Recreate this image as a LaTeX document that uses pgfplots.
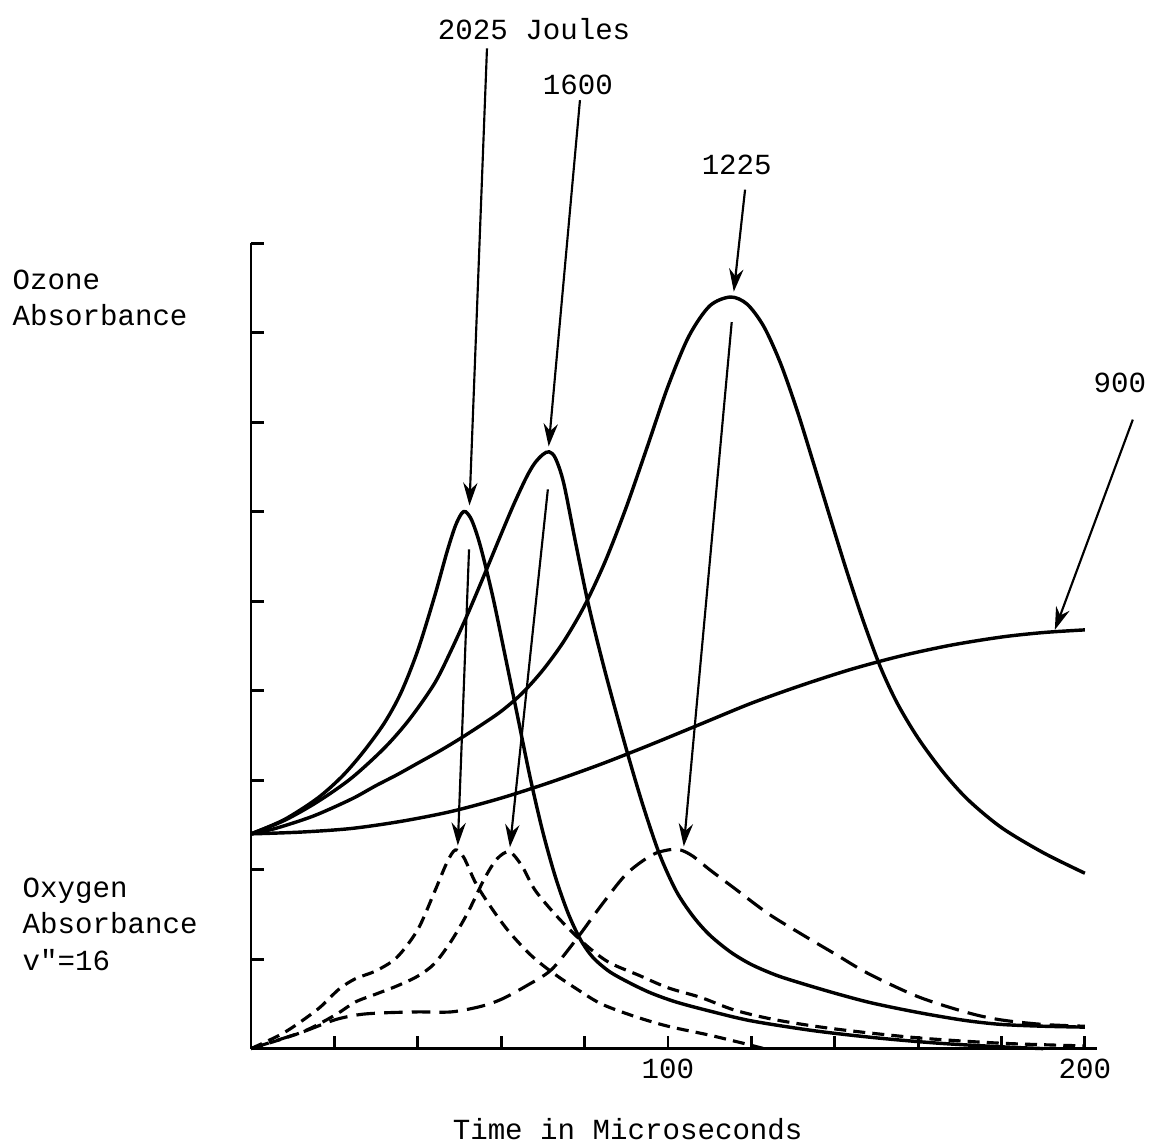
\documentclass[border=0pt]{standalone}
\usepackage{fontspec}
\setmainfont{Liberation Mono}[Ligatures=TeXOff]
\usepackage{pgfplots}
\pgfplotsset{compat=1.18}
\usetikzlibrary{arrows.meta}
\newcommand{\tw}{\fontsize{10.2}{12.8}\selectfont}
\tikzset{
  ann/.style={line width=0.75pt, -{Stealth[length=8pt,width=5pt]}},
  ozone/.style={line width=1.2pt, smooth},
  oxy/.style={line width=1.1pt, smooth, dash pattern=on 4.2pt off 2.5pt},
}
\begin{document}
\begin{tikzpicture}[font=\tw]
\begin{axis}[
  scale only axis,
  width=296.3pt, height=281.9pt,
  xmin=0, xmax=203, ymin=0, ymax=9,
  axis lines*=left,
  axis line style={line width=1pt},
  xtick={20,40,...,200},
  xticklabels={,,,,100,,,,,200},
  ytick={1,...,9},
  yticklabels={},
  tick align=inside,
  major tick length=4.5pt,
  tick style={line width=1pt, black},
  /pgf/number format/assume math mode=true,
  ticklabel style={font=\tw},
  xlabel={Time in Microseconds},
  xlabel style={at={(axis description cs:0.445,-0.1006)}, anchor=center, font=\tw},
  clip=false,
]
% ozone absorbance, solid
\addplot[ozone] coordinates {% 2025 J
 (0,2.40) (8,2.56) (16,2.80) (22,3.05) (27,3.32) (32,3.64) (36,3.98) (40,4.45)
 (44,5.05) (47,5.55) (49,5.84) (50.5,5.98) (51.5,6.00) (53,5.90) (55,5.62)
 (58,5.05) (61,4.38) (64,3.70) (67,3.02) (70,2.42) (73,1.92) (76,1.52) (79,1.22)
 (82,1.02) (86,0.86) (91,0.73) (96,0.62) (102,0.52) (110,0.42) (120,0.31)
 (135,0.20) (150,0.12) (165,0.06) (180,0.02) (190,0.00)};
\addplot[ozone] coordinates {% 1600 J
 (0,2.40) (8,2.55) (16,2.76) (24,3.02) (32,3.36) (38,3.68) (44,4.08) (48,4.45)
 (52,4.86) (56,5.30) (60,5.75) (63,6.08) (66,6.38) (68,6.54) (70,6.64) (71.5,6.67)
 (73,6.60) (75,6.32) (78,5.62) (81,4.95) (85,4.20) (90,3.35) (94,2.72) (98,2.17)
 (102,1.76) (106,1.48) (110,1.27) (115,1.08) (120,0.94) (126,0.82) (132,0.73)
 (140,0.62) (148,0.52) (156,0.44) (164,0.37) (172,0.31) (180,0.27) (190,0.25)
 (200,0.24)};
\addplot[ozone] coordinates {% 1225 J
 (0,2.40) (5,2.45) (10,2.52) (15,2.60) (20,2.70) (25,2.81) (30,2.94) (35,3.06)
 (40,3.19) (45,3.32) (50,3.46) (55,3.61) (60,3.77) (65,3.97) (70,4.23) (75,4.55)
 (80,4.95) (85,5.45) (90,6.05) (95,6.72) (100,7.40) (105,7.96) (110,8.30)
 (115,8.40) (119,8.32) (123,8.07) (127,7.66) (131,7.13) (135,6.53) (139,5.92)
 (143,5.32) (147,4.76) (151,4.26) (155,3.86) (160,3.47) (166,3.09) (172,2.78)
 (180,2.47) (190,2.19) (200,1.96)};
\addplot[ozone] coordinates {% 900 J
 (0,2.40) (12,2.42) (24,2.46) (36,2.54) (48,2.65) (60,2.80) (72,2.98) (84,3.18)
 (96,3.40) (108,3.63) (120,3.86) (132,4.06) (144,4.24) (156,4.39) (168,4.51)
 (180,4.60) (190,4.65) (200,4.68)};
% oxygen absorbance v''=16, dashed
\addplot[oxy] coordinates {% 2025 J
 (0,0.00) (8,0.18) (16,0.44) (21,0.66) (25,0.78) (30,0.87) (35,1.02) (40,1.33)
 (44,1.75) (47,2.08) (49,2.22) (51,2.14) (54,1.84) (58,1.55) (62,1.30) (67,1.05)
 (72,0.86) (78,0.67) (84,0.50) (92,0.36) (100,0.25) (110,0.15) (118,0.06) (123,0.00)};
\addplot[oxy] coordinates {% 1600 J
 (0,0.00) (12,0.18) (20,0.37) (25,0.52) (30,0.61) (35,0.70) (40,0.81) (44,0.95)
 (48,1.20) (52,1.52) (56,1.90) (59,2.12) (62,2.20) (65,2.04) (68,1.78) (72,1.55)
 (76,1.35) (81,1.13) (86,0.96) (93,0.82) (100,0.68) (108,0.57) (116,0.43)
 (126,0.32) (140,0.22) (160,0.12) (180,0.06) (200,0.03)};
\addplot[oxy, dash pattern=on 6.5pt off 3.2pt] coordinates {% 1225 J
 (0,0.00) (12,0.18) (20,0.32) (26,0.38) (32,0.40) (40,0.41) (48,0.41) (55,0.47)
 (60,0.55) (66,0.70) (72,0.88) (78,1.22) (84,1.60) (90,1.95) (96,2.16) (100,2.22)
 (103,2.22) (106,2.15) (110,2.00) (116,1.79) (124,1.51) (132,1.28) (140,1.06)
 (148,0.84) (160,0.58) (172,0.40) (180,0.32) (190,0.27) (200,0.25)};

% energy labels and arrows
\node at (axis cs:67.9,11.39) {2025 Joules};
\node at (axis cs:78.4,10.77) {1600};
\node at (axis cs:116.5,9.88) {1225};
\node at (axis cs:208.4,7.44) {900};
\draw[ann] (axis cs:56.6,11.18) -- (axis cs:52.4,6.07);
\draw[ann] (axis cs:52.3,5.58) -- (axis cs:49.6,2.27);
\draw[ann] (axis cs:78.9,10.60) -- (axis cs:71.4,6.73);
\draw[ann] (axis cs:71.2,6.25) -- (axis cs:62.1,2.25);
\draw[ann] (axis cs:118.5,9.60) -- (axis cs:115.8,8.46);
\draw[ann] (axis cs:115.3,8.12) -- (axis cs:103.8,2.26);
\draw[ann] (axis cs:211.5,7.03) -- (axis cs:192.8,4.68);

% axis captions
\node[anchor=west, align=left, inner sep=0pt] at (axis cs:-57.3,8.39) {Ozone\\Absorbance};
\node[anchor=west, align=left, inner sep=0pt] at (axis cs:-54.9,1.39) {Oxygen\\Absorbance\\v"=16};

\coordinate (bbsw) at (axis cs:-60.2,-1.08);
\coordinate (bbne) at (axis cs:216.1,11.72);
\end{axis}
\pgfresetboundingbox
\path (bbsw) rectangle (bbne);
\end{tikzpicture}
\end{document}
